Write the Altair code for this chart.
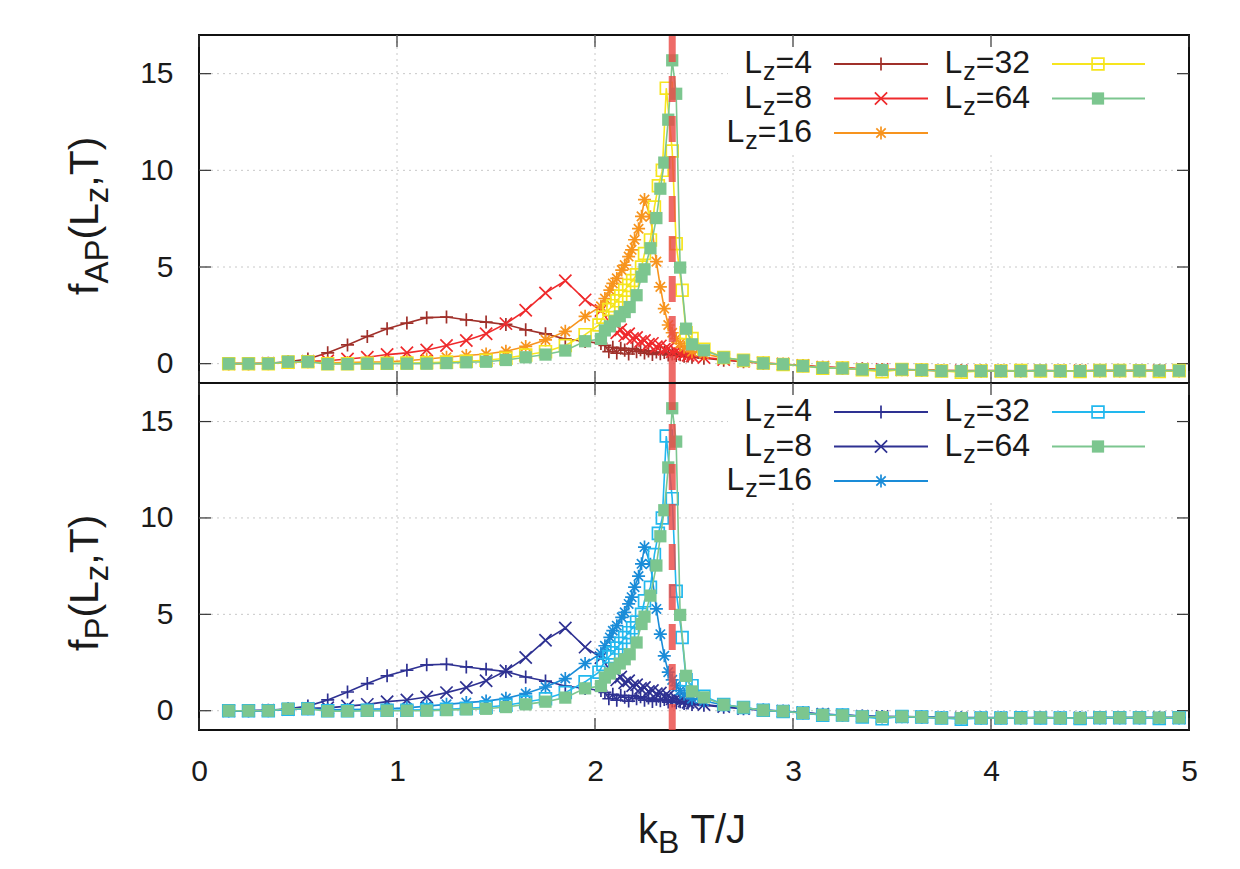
import altair as alt
import pandas as pd

FONT = "Liberation Sans"

# ---------------------------------------------------------------- data
# temperature grid below the dense window, and above it (shared by all sizes)
T_LOW = [0.15, 0.25, 0.35, 0.45, 0.55, 0.65, 0.75, 0.85, 0.95, 1.05,
         1.15, 1.25, 1.35, 1.45, 1.55, 1.65, 1.75, 1.85, 1.95]
T_HIGH = [2.55, 2.65, 2.75, 2.85, 2.95, 3.05, 3.15, 3.25, 3.35, 3.45,
          3.55, 3.65, 3.75, 3.85, 3.95, 4.05, 4.15, 4.25, 4.35, 4.45,
          4.55, 4.65, 4.75, 4.85, 4.95]

# L_z = 4
L4_LOW = [0.0, 0.0, 0.02, 0.10, 0.24, 0.56, 0.97, 1.41, 1.81, 2.10,
          2.38, 2.41, 2.27, 2.15, 2.03, 1.75, 1.54, 1.28, 1.15]
L4_MID_T = [2.03, 2.05, 2.07, 2.09, 2.11, 2.13, 2.15, 2.17, 2.19, 2.21, 2.23, 2.25,
            2.27, 2.29, 2.31, 2.33, 2.35, 2.37, 2.39, 2.41, 2.43, 2.45, 2.47, 2.49]
L4_MID = [1.05, 0.95, 0.62, 0.85, 0.55, 0.80, 0.70, 0.50, 0.78, 0.62, 0.72, 0.55,
          0.66, 0.48, 0.60, 0.52, 0.58, 0.45, 0.50, 0.42, 0.46, 0.38, 0.40, 0.33]
L4_HIGH = [0.28, 0.18, 0.10, 0.02, -0.03, -0.10, -0.18, -0.22, -0.27, -0.30,
           -0.30, -0.32, -0.35, -0.36, -0.36, -0.36, -0.37, -0.36, -0.37, -0.37,
           -0.36, -0.36, -0.36, -0.36, -0.36]

# L_z = 8
L8_LOW = [0.0, 0.0, 0.02, 0.06, 0.12, 0.15, 0.24, 0.33, 0.47, 0.56,
          0.71, 0.94, 1.20, 1.55, 2.07, 2.76, 3.66, 4.29, 3.30]
L8_MID_T = [2.03, 2.11, 2.13, 2.15, 2.17, 2.19, 2.21, 2.23, 2.25, 2.27, 2.29,
            2.31, 2.33, 2.35, 2.37, 2.39, 2.41, 2.43, 2.45, 2.47, 2.49]
L8_MID = [2.75, 1.60, 1.75, 1.45, 1.55, 1.30, 1.35, 1.15, 1.20, 1.00, 1.05,
          0.88, 0.92, 0.75, 0.78, 0.62, 0.64, 0.52, 0.50, 0.44, 0.40]
L8_HIGH = [0.32, 0.22, 0.12, 0.03, -0.02, -0.10, -0.18, -0.22, -0.28, -0.30,
           -0.31, -0.33, -0.36, -0.37, -0.37, -0.37, -0.37, -0.36, -0.37, -0.37,
           -0.36, -0.37, -0.36, -0.36, -0.36]

# L_z = 16
L16_LOW = [0.0, 0.0, 0.0, 0.08, 0.10, 0.05, 0.06, 0.08, 0.10, 0.15,
           0.24, 0.33, 0.42, 0.50, 0.64, 0.89, 1.23, 1.67, 2.45]
L16_MID_T = [2.03, 2.05, 2.075, 2.09, 2.11, 2.135, 2.15, 2.17, 2.185, 2.20, 2.22, 2.235,
             2.25, 2.28, 2.31, 2.33, 2.35, 2.37, 2.39, 2.41, 2.43, 2.45, 2.49]
L16_MID = [2.97, 3.37, 3.80, 4.15, 4.41, 4.84, 5.10, 5.54, 5.89, 6.41, 6.98, 7.62,
           8.49, 7.60, 5.28, 3.97, 2.85, 2.00, 1.60, 1.30, 1.05, 0.85, 0.62]
L16_HIGH = [0.50, 0.30, 0.15, 0.03, -0.03, -0.11, -0.20, -0.23, -0.29, -0.32,
            -0.31, -0.34, -0.37, -0.37, -0.38, -0.37, -0.38, -0.36, -0.38, -0.37,
            -0.36, -0.37, -0.36, -0.37, -0.36]

# L_z = 32
L32_LOW = [0.0, 0.0, 0.0, 0.08, 0.10, 0.0, 0.0, 0.02, 0.02, 0.03,
           0.05, 0.08, 0.12, 0.18, 0.28, 0.45, 0.62, 0.94, 1.50]
L32_MID_T = [2.02, 2.04, 2.07, 2.09, 2.11, 2.13, 2.15, 2.17, 2.19, 2.21, 2.235,
             2.25, 2.28, 2.30, 2.32, 2.34, 2.36, 2.39, 2.41, 2.44, 2.46, 2.49]
L32_MID = [2.00, 2.40, 2.80, 3.00, 3.25, 3.50, 3.80, 4.05, 4.30, 4.60, 5.00,
           5.70, 6.40, 8.10, 9.20, 10.0, 14.25, 11.0, 6.20, 3.80, 1.60, 1.30]
L32_HIGH = [0.75, 0.32, 0.17, 0.03, -0.04, -0.12, -0.23, -0.22, -0.32, -0.42,
            -0.30, -0.33, -0.38, -0.44, -0.38, -0.38, -0.36, -0.38, -0.38, -0.40,
            -0.36, -0.36, -0.37, -0.40, -0.36]

# L_z = 64
L64_LOW = [0.0, 0.0, 0.0, 0.10, 0.10, -0.02, -0.02, 0.0, 0.0, 0.0,
           0.0, 0.03, 0.07, 0.10, 0.19, 0.33, 0.47, 0.68, 1.16]
L64_MID_T = [2.03, 2.05, 2.075, 2.10, 2.125, 2.15, 2.175, 2.21, 2.235, 2.25,
             2.28, 2.31, 2.33, 2.35, 2.37, 2.39, 2.41, 2.43, 2.46, 2.49]
L64_MID = [1.28, 1.72, 1.93, 2.19, 2.45, 2.67, 2.93, 3.54, 4.50, 4.88,
           5.97, 7.53, 9.05, 10.4, 12.62, 15.69, 13.96, 4.97, 1.81, 1.00]
L64_HIGH = [0.69, 0.31, 0.17, 0.02, -0.03, -0.12, -0.22, -0.24, -0.30, -0.33,
            -0.30, -0.33, -0.38, -0.38, -0.38, -0.38, -0.38, -0.36, -0.38, -0.38,
            -0.36, -0.36, -0.36, -0.36, -0.36]

SIZES = ["4", "8", "16", "32", "64"]
SERIES = {
    "4": (L4_LOW, L4_MID_T, L4_MID, L4_HIGH),
    "8": (L8_LOW, L8_MID_T, L8_MID, L8_HIGH),
    "16": (L16_LOW, L16_MID_T, L16_MID, L16_HIGH),
    "32": (L32_LOW, L32_MID_T, L32_MID, L32_HIGH),
    "64": (L64_LOW, L64_MID_T, L64_MID, L64_HIGH),
}

T_C = 2.39
X_TICKS = [0, 1, 2, 3, 4, 5]
Y_TICKS = [0, 5, 10, 15]

COLORS_AP = ["#a0302a", "#ef2a2c", "#f7941e", "#f6e51e", "#7cc68f"]
COLORS_P = ["#2e3192", "#2e3192", "#1a8cd8", "#22b8ee", "#7cc68f"]

PLUS = "M-1,0L1,0M0,-1L0,1"
CROSS = "M-1,-1L1,1M-1,1L1,-1"
STAR = "M-1,0L1,0M0,-1L0,1M-0.72,-0.72L0.72,0.72M-0.72,0.72L0.72,-0.72"
MARKERS = [(PLUS, False, 170), (CROSS, False, 150), (STAR, False, 170),
           ("square", False, 140), ("square", True, 150)]

# Arial-like advance widths (em) for laying out sub-scripted labels
ADV = {"f": .278, "A": .667, "P": .667, "(": .333, ")": .333, "L": .556,
       "z": .5, ",": .278, "T": .611, "=": .584, "k": .5, "B": .667,
       " ": .278, "/": .278, "J": .5}
for d in "0123456789":
    ADV[d] = .556


def text_width(s, size):
    return sum(ADV.get(c, .556) for c in s) * size


def frame(name, vals):
    return pd.DataFrame({name: vals})


ONE = pd.DataFrame({"a": [0]})
W = 990


def label(txt, xv, yv, fs, align="left", angle=0):
    props = dict(text=txt, font=FONT, fontSize=fs, color="#1a1a1a", align=align,
                 baseline="alphabetic")
    if angle:
        props["angle"] = angle
    return alt.Chart(ONE).mark_text(**props).encode(x=alt.value(xv), y=alt.value(yv))


def panel(colors, sub_label, height, title_start, show_x):
    H = height
    xs = alt.Scale(domain=[0, 5], nice=False, zero=False)
    ys = alt.Scale(domain=[-1, 17], nice=False, zero=False)
    x_axis = (alt.Axis(values=X_TICKS, labelPadding=26, title=None, format="d",
                       labelFlush=False)
              if show_x else None)
    y_axis = alt.Axis(values=Y_TICKS, labelPadding=26, title=None, format="d")
    X = lambda f: alt.X(f, scale=xs, axis=x_axis)
    Y = lambda f: alt.Y(f, scale=ys, axis=y_axis)

    layers = []
    # dotted grid
    layers.append(alt.Chart(frame("g", X_TICKS[1:-1])).mark_rule(
        color="#c8c8c8", strokeDash=[2, 4], strokeWidth=1).encode(
        x=X("g:Q"), y=alt.value(0), y2=alt.value(H)))
    layers.append(alt.Chart(frame("g", Y_TICKS)).mark_rule(
        color="#c8c8c8", strokeDash=[2, 4], strokeWidth=1).encode(
        y=Y("g:Q"), x=alt.value(0), x2=alt.value(W)))
    # legend background
    layers.append(alt.Chart(ONE).mark_rect(color="white").encode(
        x=alt.value(529), x2=alt.value(W - 1.5), y=alt.value(1.5), y2=alt.value(118)))
    # inward ticks on all four sides
    tick_style = dict(color="#333333", strokeWidth=1.2)
    layers.append(alt.Chart(frame("g", X_TICKS)).mark_rule(**tick_style).encode(
        x=X("g:Q"), y=alt.value(H), y2=alt.value(H - 12)))
    layers.append(alt.Chart(frame("g", X_TICKS)).mark_rule(**tick_style).encode(
        x=X("g:Q"), y=alt.value(0), y2=alt.value(12)))
    layers.append(alt.Chart(frame("g", Y_TICKS)).mark_rule(**tick_style).encode(
        y=Y("g:Q"), x=alt.value(0), x2=alt.value(12)))
    layers.append(alt.Chart(frame("g", Y_TICKS)).mark_rule(**tick_style).encode(
        y=Y("g:Q"), x=alt.value(W - 12), x2=alt.value(W)))

    # data series
    for size, color, (shape, filled, msize) in zip(SIZES, colors, MARKERS):
        low, mid_t, mid, high = SERIES[size]
        df = pd.DataFrame({"T": T_LOW + mid_t + T_HIGH, "f": low + mid + high})
        base = alt.Chart(df).encode(x=X("T:Q"), y=Y("f:Q"))
        layers.append(base.mark_line(color=color, strokeWidth=1.6))
        layers.append(base.mark_point(shape=shape, filled=filled, size=msize,
                                      color=color, strokeWidth=1.7, opacity=1))

    # critical temperature
    layers.append(alt.Chart(frame("Tc", [T_C])).mark_rule(
        color="#ea4a47", strokeWidth=7, strokeDash=[26, 14], opacity=0.82).encode(
        x=X("Tc:Q"), y=alt.value(1), y2=alt.value(H)))

    # legend, two columns
    rows = [29, 63.5, 98]
    slots = [(0, 0), (0, 1), (0, 2), (1, 0), (1, 1)]
    cols = [dict(tr=613, l0=635, l1=729, m=682), dict(tr=831, l0=853, l1=946, m=899)]
    for size, color, (shape, filled, msize), (ci, ri) in zip(SIZES, colors, MARKERS, slots):
        c, yv = cols[ci], rows[ri]
        tail = "=" + size
        x_tail = c["tr"]
        x_sub = x_tail - text_width(tail, 32)
        x_L = x_sub - text_width("z", 25) - 1
        layers.append(label(tail, x_tail, yv + 9, 32, align="right"))
        layers.append(label("z", x_sub, yv + 16, 25, align="right"))
        layers.append(label("L", x_L, yv + 9, 32, align="right"))
        layers.append(alt.Chart(ONE).mark_rule(color=color, strokeWidth=2).encode(
            x=alt.value(c["l0"]), x2=alt.value(c["l1"]), y=alt.value(yv)))
        layers.append(alt.Chart(ONE).mark_point(
            shape=shape, filled=filled, size=msize, color=color, strokeWidth=1.7,
            opacity=1).encode(x=alt.value(c["m"]), y=alt.value(yv)))

    # rotated y title: f_{sub}(L_z,T)
    parts = [("f", 41, 0), (sub_label, 33, 10), ("(L", 41, 0), ("z", 33, 10), (",T)", 41, 0)]
    pos = title_start
    for txt, fs, dx in parts:
        layers.append(label(txt, -101 + dx, pos, fs, angle=270))
        pos -= text_width(txt, fs)

    if show_x:
        # k_B T/J
        pos = 439
        layers.append(label("k", pos, 460, 40))
        pos += text_width("k", 40)
        layers.append(label("B", pos, 470, 32))
        pos += text_width("B", 32) + text_width(" ", 40)
        layers.append(label("T/J", pos, 460, 40))

    return alt.layer(*layers).properties(width=W, height=H)


top = panel(COLORS_AP, "AP", 348, 260, False)
bottom = panel(COLORS_P, "P", 347, 268, True)

chart = alt.vconcat(top, bottom, spacing=0, bounds="flush").properties(
    padding={"left": 63, "top": 31, "right": 10, "bottom": 5}
).configure_view(stroke="#111111", strokeWidth=2).configure_axis(
    labelFont=FONT, labelFontSize=30, labelColor="#1a1a1a",
    domain=False, ticks=False, grid=False, tickSize=0
)

chart.save("out.html", embed_options={"renderer": "svg", "actions": False})
